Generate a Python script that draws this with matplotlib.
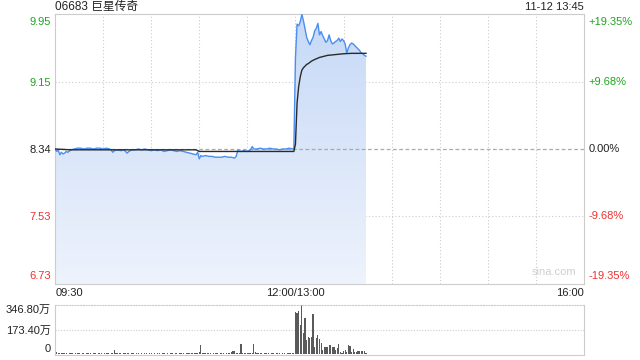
import matplotlib.pyplot as plt
import numpy as np
from matplotlib.colors import LinearSegmentedColormap
from matplotlib.transforms import blended_transform_factory

plt.rcParams['font.family'] = ['Liberation Sans', 'Noto Sans CJK SC', 'DejaVu Sans']

# 分时价格 (分钟, 从09:30算起, 午休去掉)
price_t = [0, 1, 2, 3, 4, 5, 6, 7, 8, 10, 12, 14, 16, 18, 20, 22, 24, 26, 28, 30,
           32, 34, 35, 36, 37, 39, 41, 43, 45, 46, 48, 50, 52, 54, 56, 58, 60, 62, 64, 66,
           68, 70, 72, 74, 76, 78, 80, 82, 84, 86, 88, 89, 90, 91, 92, 94, 96, 98, 100, 102,
           104, 106, 108, 110, 112, 113, 114, 116, 118, 120, 122, 123, 124, 126, 128, 130, 132, 134, 136, 138,
           140, 142, 144, 146, 148, 149,
           150, 151, 152, 153, 154, 155, 156, 157, 158, 159, 160, 161, 162, 163, 164, 165, 166, 167, 168, 169,
           170, 171, 172, 173, 174, 175, 176, 177, 178, 179, 180, 181, 182, 183, 184, 185, 186, 187, 188, 189,
           190, 191, 192, 193, 194]
price = [8.34, 8.31, 8.33, 8.27, 8.30, 8.28, 8.29, 8.31, 8.30, 8.33, 8.34, 8.35, 8.35, 8.34, 8.35, 8.35, 8.34, 8.35, 8.35, 8.34,
         8.35, 8.34, 8.33, 8.30, 8.32, 8.33, 8.32, 8.33, 8.29, 8.31, 8.33, 8.33, 8.34, 8.33, 8.34, 8.33, 8.32, 8.33, 8.32, 8.33,
         8.31, 8.32, 8.33, 8.32, 8.31, 8.32, 8.31, 8.30, 8.29, 8.28, 8.27, 8.30, 8.22, 8.26, 8.25, 8.26, 8.25, 8.25, 8.24, 8.24,
         8.24, 8.25, 8.24, 8.24, 8.23, 8.25, 8.32, 8.31, 8.32, 8.31, 8.33, 8.37, 8.34, 8.34, 8.35, 8.34, 8.34, 8.35, 8.34, 8.34,
         8.33, 8.34, 8.34, 8.35, 8.34, 8.35,
         9.45, 9.86, 9.84, 9.89, 9.98, 9.90, 9.80, 9.70, 9.65, 9.61, 9.66, 9.70, 9.78, 9.81, 9.87, 9.73, 9.77, 9.72, 9.68, 9.64,
         9.66, 9.73, 9.66, 9.62, 9.63, 9.65, 9.66, 9.69, 9.65, 9.68, 9.66, 9.62, 9.51, 9.57, 9.61, 9.63, 9.62, 9.60, 9.58, 9.56,
         9.54, 9.51, 9.50, 9.48, 9.47]

# 均价线
avg_t = [0, 10, 40, 88, 90, 112, 149, 150, 151, 152, 153, 154, 155, 156, 157, 158, 160, 162, 165, 170,
         175, 180, 185, 194]
avg = [8.34, 8.33, 8.33, 8.33, 8.31, 8.31, 8.31, 8.40, 8.90, 9.10, 9.22, 9.30, 9.33, 9.35, 9.37, 9.38, 9.41, 9.43, 9.455, 9.48,
       9.49, 9.50, 9.505, 9.505]

# 成交量 (万股), 每分钟一根
vol_am = [20, 15, 8, 6, 5, 4, 6, 5, 3, 4,
          5, 4, 3, 5, 6, 4, 3, 5, 4, 3,
          4, 6, 5, 3, 4, 5, 3, 4, 6, 5,
          3, 4, 5, 4, 3, 6, 8, 29, 6, 4,
          5, 4, 3, 5, 4, 6, 5, 3, 4, 5,
          3, 4, 5, 3, 4, 3, 5, 4, 3, 4,
          5, 3, 4, 3, 5, 4, 3, 4, 5, 3,
          4, 3, 5, 4, 3, 4, 5, 3, 4, 5,
          4, 3, 5, 4, 6, 5, 4, 8, 6, 10,
          12, 67, 8, 5, 4, 6, 5, 4, 3, 5,
          4, 5, 3, 4, 5, 4, 3, 5, 4, 6,
          12, 21, 18, 6, 8, 5, 72, 10, 6, 4,
          5, 4, 8, 6, 72, 14, 6, 5, 4, 5,
          3, 4, 5, 4, 3, 5, 4, 3, 4, 5,
          4, 3, 5, 4, 3, 4, 5, 6, 4, 5]
vol_pm = [295, 288, 304, 205, 347, 146, 253, 99, 118, 111,
          122, 283, 52, 111, 135, 104, 76, 28, 48, 48,
          52, 64, 64, 48, 48, 28, 40, 71, 12, 10,
          20, 28, 12, 64, 57, 16, 35, 12, 12, 24,
          24, 20, 24, 20, 8]

prev_close = 8.34
price_ticks = [9.95, 9.15, 8.34, 7.53, 6.73]
pct_labels = ['+19.35%', '+9.68%', '0.00%', '-9.68%', '-19.35%']
vol_ticks = [346.80, 173.40, 0]
vol_labels = ['346.80万', '173.40万', '0']

GREEN = '#1ea51e'
RED = '#f03030'
DARK = '#222222'
GRID = '#cccccc'


def main():
    fig = plt.figure(figsize=(6.4, 3.6), dpi=100)
    ax = fig.add_axes([55 / 640, 76 / 360, 529 / 640, 270 / 360])
    axv = fig.add_axes([55 / 640, 5 / 360, 529 / 640, 50 / 360])

    t = np.array(price_t)
    p = np.array(price)
    ymin, ymax = 6.696, 9.984

    # 渐变填充
    poly = ax.fill_between(t, p, ymin, color='none', lw=0)
    cmap = LinearSegmentedColormap.from_list('fill', ['#eef3fc', '#c6d9f7'])
    grad = np.linspace(0, 1, 256).reshape(-1, 1)
    im = ax.imshow(grad, extent=[0, t[-1], ymin, ymax], origin='lower', aspect='auto', cmap=cmap, zorder=1)
    im.set_clip_path(poly.get_paths()[0], transform=ax.transData)

    ax.plot(t, p, color='#4a8ef0', lw=1, zorder=3)
    ax.plot(avg_t, avg, color='#2a2a2a', lw=1, zorder=4)

    ax.set_xlim(0, 330)
    ax.set_ylim(ymin, ymax)

    for x in range(30, 330, 30):
        ax.axvline(x, color=GRID, lw=0.8, ls=(0, (1, 2)), zorder=0)
    for y in [9.15, 7.53]:
        ax.axhline(y, color=GRID, lw=0.8, ls=(0, (1, 2)), zorder=0)
    ax.axhline(prev_close, color='#aaaaaa', lw=0.9, ls=(0, (3, 2)), zorder=2)

    for s in ax.spines.values():
        s.set_color(GRID)
    ax.set_xticks([])
    ax.set_yticks(price_ticks)
    ax.set_yticklabels(['%.2f' % v for v in price_ticks], fontsize=8)
    ax.tick_params(axis='y', length=0, pad=3)
    colors = [GREEN, GREEN, DARK, RED, RED]
    for lab, c in zip(ax.get_yticklabels(), colors):
        lab.set_color(c)
    ax.get_yticklabels()[0].set_va('top')
    ax.get_yticklabels()[-1].set_va('bottom')

    tr = blended_transform_factory(ax.transAxes, ax.transData)
    vas = ['top', 'center', 'center', 'center', 'bottom']
    for v, s, c, va in zip(price_ticks, pct_labels, colors, vas):
        ax.text(1.008, v, s, transform=tr, color=c, fontsize=8, ha='left', va=va)

    # 时间标签
    ax.text(0.002, -0.035, '09:30', transform=ax.transAxes, fontsize=8, color=DARK, ha='left', va='center')
    ax.text(150 / 330, -0.035, '12:00/13:00', transform=ax.transAxes, fontsize=8, color=DARK, ha='center', va='center')
    ax.text(1.0, -0.035, '16:00', transform=ax.transAxes, fontsize=8, color=DARK, ha='right', va='center')
    ax.text(0.985, 0.045, 'sina.com', transform=ax.transAxes, fontsize=8, color='#d0d0d0', ha='right', va='center')

    fig.text(55 / 640, 1 - 7 / 360, '06683 巨星传奇', fontsize=8.5, color=DARK, ha='left', va='center')
    fig.text(584 / 640, 1 - 7 / 360, '11-12 13:45', fontsize=8, color=DARK, ha='right', va='center')

    # 成交量
    vol = vol_am + vol_pm
    axv.bar(np.arange(len(vol)), vol, width=0.75, color='#5a5a5a', zorder=2)
    axv.set_xlim(0, 330)
    axv.set_ylim(-7, 346.8)
    axv.axhline(173.4, color=GRID, lw=0.8, ls=(0, (1, 1.5)), zorder=0)
    for s in axv.spines.values():
        s.set_color(GRID)
    axv.spines['top'].set_linestyle((0, (1, 1.5)))
    axv.set_xticks([])
    axv.set_yticks(vol_ticks)
    axv.set_yticklabels(vol_labels, fontsize=8, color=DARK)
    axv.tick_params(axis='y', length=0, pad=3)
    axv.get_yticklabels()[0].set_va('top')
    axv.get_yticklabels()[-1].set_va('bottom')

    fig.savefig('out.png', dpi=100)


if __name__ == '__main__':
    main()
